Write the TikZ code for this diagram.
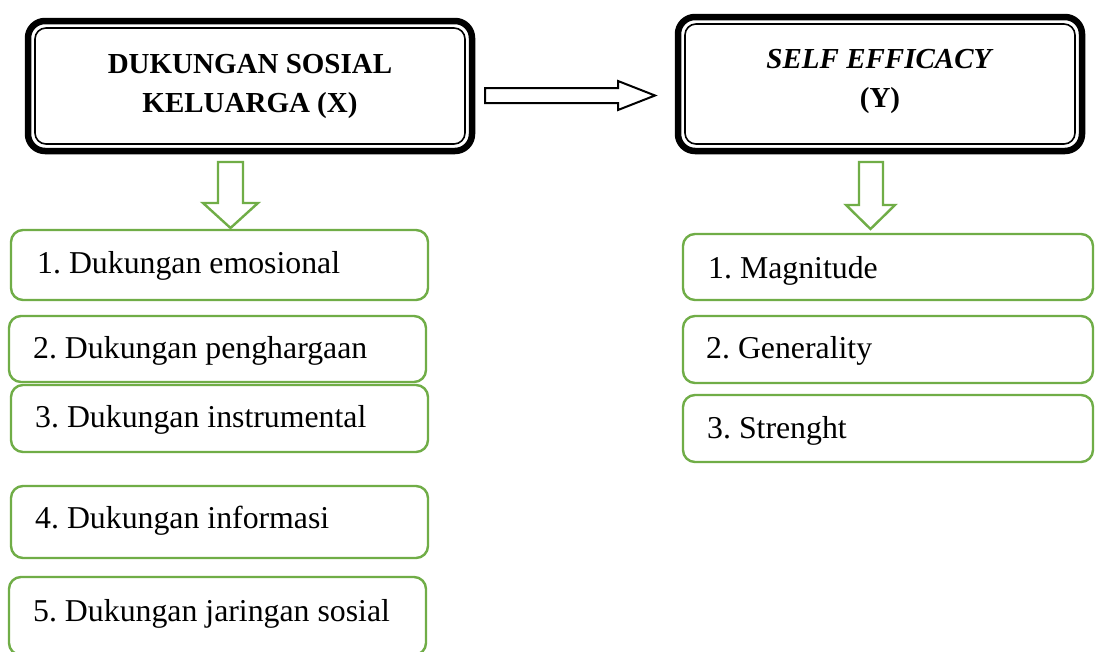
\documentclass[tikz,border=0pt]{standalone}
\usepackage{fontspec}
\setmainfont{Liberation Serif}
\frenchspacing
\definecolor{gr}{HTML}{70AD47}
\tikzset{
  bigout/.style={draw=black, line width=6.5pt, rounded corners=17pt, rectangle, inner sep=0pt,
    font=\fontsize{29}{39}\selectfont\bfseries, align=center},
  bigin/.style={draw=black, line width=1.6pt, rounded corners=11pt, rectangle, inner sep=0pt},
  itembox/.style={draw=gr, line width=2.4pt, rounded corners=12pt, rectangle, inner sep=0pt, fill=white},
  itemtxt/.style={font=\fontsize{31.8}{36}\selectfont, inner sep=0pt, anchor=base west},
  hollow/.style={draw=gr, line width=2.4pt, fill=white, line join=miter},
  blkarrow/.style={draw=black, line width=2pt, fill=white, line join=miter}
}
\begin{document}
\begin{tikzpicture}[x=1pt,y=-1pt]
\useasboundingbox (0,0) rectangle (1095,651);
\clip (0,0) rectangle (1095,651);
\fill[white] (0,0) rectangle (1095,651);

% big boxes
\node[bigout, minimum width=444pt, minimum height=130pt] (X) at (250,86) {DUKUNGAN SOSIAL\\KELUARGA (X)};
\node[bigin, minimum width=430pt, minimum height=116pt] (Xin) at (250,86) {};
\node[bigout, minimum width=404pt, minimum height=134pt] (Y) at (880,84) {};
\node[bigin, minimum width=390pt, minimum height=120pt] (Yin) at (880,84) {};
\node[font=\fontsize{29}{39}\selectfont\bfseries, align=center, inner sep=0pt] (Ytxt) at (880,81) {\textit{SELF EFFICACY}\\(Y)};

% black hollow arrow
\draw[blkarrow] (485,88) -- (618,88) -- (618,81) -- (655,95.5) -- (618,110) -- (618,103) -- (485,103) -- cycle;

% left items
\node[itembox, minimum width=417pt, minimum height=70pt] (l1) at (219.5,265) {};
\node[itembox, minimum width=417pt, minimum height=66pt] (l2) at (217.5,349) {};
\node[itembox, minimum width=417pt, minimum height=67pt] (l3) at (219.5,418.5) {};
\node[itembox, minimum width=417pt, minimum height=72pt] (l4) at (219.5,522) {};
\node[itembox, minimum width=417pt, minimum height=78pt] (l5) at (217.5,616) {};
\node[itemtxt] (t1) at (37,273) {1. Dukungan emosional};
\node[itemtxt] (t2) at (33,358) {2. Dukungan penghargaan};
\node[itemtxt] (t3) at (35,427) {3. Dukungan instrumental};
\node[itemtxt] (t4) at (35,528) {4. Dukungan informasi};
\node[itemtxt] (t5) at (33,621) {5. Dukungan jaringan sosial};

% right items
\node[itembox, minimum width=410pt, minimum height=66pt] (r1) at (888,267) {};
\node[itembox, minimum width=410pt, minimum height=67pt] (r2) at (888,349.5) {};
\node[itembox, minimum width=410pt, minimum height=67pt] (r3) at (888,428.5) {};
\node[itemtxt] (s1) at (708,278) {1. Magnitude};
\node[itemtxt] (s2) at (706,358) {2. Generality};
\node[itemtxt] (s3) at (707,438) {3. Strenght};

% green hollow down arrows
\draw[hollow] (218,162) -- (243,162) -- (243,203) -- (258,203) -- (230.5,228) -- (203,203) -- (218,203) -- cycle;
\draw[hollow] (859,162) -- (883,162) -- (883,205) -- (895,205) -- (870.5,229) -- (846,205) -- (859,205) -- cycle;
\end{tikzpicture}
\end{document}
